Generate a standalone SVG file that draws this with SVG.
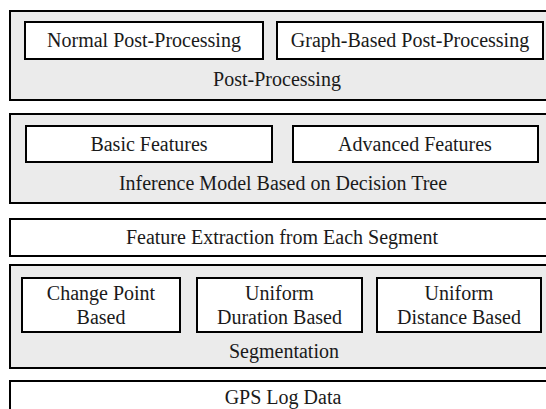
<svg xmlns="http://www.w3.org/2000/svg" width="546" height="409" viewBox="0 0 546 409">
  <style>
    .panel { fill: #ebebeb; stroke: #000; stroke-width: 2; }
    .box { fill: #fff; stroke: #000; stroke-width: 2; }
    .lbl { font-family: 'Liberation Serif', 'DejaVu Serif', serif; font-size: 20px; fill: #1a1a1a; text-anchor: middle; }
  </style>
  <rect width="546" height="409" fill="#fff"/>

  <!-- Post-processing layer -->
  <g id="post-processing">
    <rect class="panel" x="10" y="11" width="545" height="89"/>
    <text class="lbl" x="277" y="86">Post-Processing</text>
  </g>
  <g id="normal-post-processing">
    <rect class="box" x="25" y="22" width="238" height="37"/>
    <text class="lbl" x="144" y="47">Normal Post-Processing</text>
  </g>
  <g id="graph-based-post-processing">
    <rect class="box" x="277" y="22" width="266" height="37"/>
    <text class="lbl" x="410" y="47">Graph-Based Post-Processing</text>
  </g>

  <!-- Inference layer -->
  <g id="inference-model">
    <rect class="panel" x="10" y="114" width="545" height="89"/>
    <text class="lbl" x="283" y="190">Inference Model Based on Decision Tree</text>
  </g>
  <g id="basic-features">
    <rect class="box" x="26" y="126" width="246" height="36"/>
    <text class="lbl" x="149" y="151">Basic Features</text>
  </g>
  <g id="advanced-features">
    <rect class="box" x="293" y="126" width="245" height="36"/>
    <text class="lbl" x="415" y="151">Advanced Features</text>
  </g>

  <!-- Feature extraction layer -->
  <g id="feature-extraction">
    <rect class="box" x="10" y="219" width="545" height="37"/>
    <text class="lbl" x="282" y="244">Feature Extraction from Each Segment</text>
  </g>

  <!-- Segmentation layer -->
  <g id="segmentation">
    <rect class="panel" x="10" y="265" width="545" height="103"/>
    <text class="lbl" x="284" y="358">Segmentation</text>
  </g>
  <g id="change-point-based">
    <rect class="box" x="22" y="278" width="158" height="54"/>
    <text class="lbl" x="101" y="300">Change Point</text>
    <text class="lbl" x="101" y="324">Based</text>
  </g>
  <g id="uniform-duration-based">
    <rect class="box" x="197" y="278" width="165" height="54"/>
    <text class="lbl" x="279.5" y="300">Uniform</text>
    <text class="lbl" x="279.5" y="324">Duration Based</text>
  </g>
  <g id="uniform-distance-based">
    <rect class="box" x="377" y="278" width="164" height="54"/>
    <text class="lbl" x="459" y="300">Uniform</text>
    <text class="lbl" x="459" y="324">Distance Based</text>
  </g>

  <!-- Raw data layer -->
  <g id="gps-log-data">
    <rect class="box" x="10" y="381" width="545" height="40"/>
    <text class="lbl" x="283" y="404">GPS Log Data</text>
  </g>

  <!-- The layers are stacked edge to edge; no connectors are drawn -->
  <g id="connectors"/>
</svg>
